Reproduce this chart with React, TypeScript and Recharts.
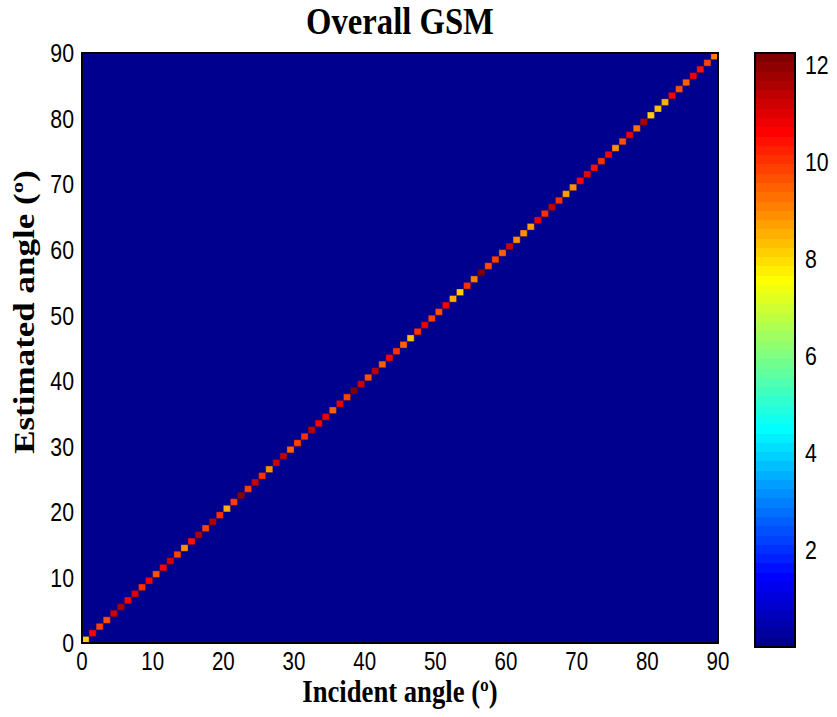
import React from "react";
import { ComposedChart, XAxis, YAxis, ReferenceArea } from "recharts";

// incident angle of each diagonal cell (deg)
const angles = [
  0, 1, 2, 3, 4, 5, 6, 7, 8, 9, 10, 11, 12, 13, 14, 15, 16, 17, 18, 19,
  20, 21, 22, 23, 24, 25, 26, 27, 28, 29, 30, 31, 32, 33, 34, 35, 36, 37, 38, 39,
  40, 41, 42, 43, 44, 45, 46, 47, 48, 49, 50, 51, 52, 53, 54, 55, 56, 57, 58, 59,
  60, 61, 62, 63, 64, 65, 66, 67, 68, 69, 70, 71, 72, 73, 74, 75, 76, 77, 78, 79,
  80, 81, 82, 83, 84, 85, 86, 87, 88, 89,
];

// GSM value on the diagonal (estimated == incident)
const peakValues = [
  8.2, 10.6, 9.8, 9.6, 11.2, 11.6, 10.7, 11.0, 10.1, 10.6,
  9.6, 10.7, 11.2, 9.9, 8.8, 10.5, 11.5, 9.9, 11.6, 10.1,
  8.6, 9.8, 11.9, 9.8, 11.1, 10.1, 8.8, 11.1, 11.4, 9.4,
  9.8, 10.1, 11.3, 10.7, 10.9, 9.5, 10.9, 9.9, 12.1, 11.1,
  9.6, 11.3, 9.4, 10.7, 10.1, 9.5, 8.4, 10.1, 10.9, 9.8,
  9.6, 10.7, 8.6, 8.2, 10.1, 9.1, 12.2, 9.6, 9.8, 9.4,
  11.1, 8.9, 8.8, 8.7, 10.9, 9.95, 11.4, 9.95, 8.7, 8.8,
  10.7, 10.9, 10.5, 9.95, 10.7, 8.8, 9.6, 10.9, 9.3, 11.5,
  8.1, 8.4, 8.6, 10.7, 9.6, 9.5, 10.9, 10.5, 9.8, 9.0,
];

const offDiagonalValue = 0;
const angleRange = [0, 90];
const angleTicks = [0, 10, 20, 30, 40, 50, 60, 70, 80, 90];
const colorRange = [0, 12.24];
const colorTicks = [2, 4, 6, 8, 10, 12];

const W = 837;
const H = 717;
const sans = "'Liberation Sans', Arial, Helvetica, sans-serif";
const serif = "'Liberation Serif', 'Times New Roman', serif";

// matlab jet, 64 entries
const clamp = (v: number) => Math.max(0, Math.min(1, v));
const jetAt = (t: number) => {
  const r = clamp(1.5 - Math.abs(4 * t - 3));
  const g = clamp(1.5 - Math.abs(4 * t - 2));
  const b = clamp(1.5 - Math.abs(4 * t - 1));
  return `rgb(${Math.round(r * 255)},${Math.round(g * 255)},${Math.round(b * 255)})`;
};
const jetIndex = (i: number) => jetAt((i + 1) / 64);
const colorFor = (v: number) => {
  const t = (v - colorRange[0]) / (colorRange[1] - colorRange[0]);
  const idx = Math.min(63, Math.max(0, Math.floor(t * 64)));
  return jetIndex(idx);
};

const jetStops: { offset: string; color: string }[] = [];
for (let i = 63; i >= 0; i--) {
  jetStops.push({ offset: `${((63 - i) / 64) * 100}%`, color: jetIndex(i) });
  jetStops.push({ offset: `${((64 - i) / 64) * 100}%`, color: jetIndex(i) });
}

const tickLineStyle = { stroke: "#000", strokeWidth: 1.5 };
const boxLineStyle = { stroke: "#000", strokeWidth: 2 };
const mainMargin = { top: 52, right: 118, bottom: 0, left: 32 };
const barMargin = { top: 53, right: 0, bottom: 69, left: 755 };
const layer = { position: "absolute" as const, left: 0, top: 0 };

const XTick = (props: any) => {
  const { x, y, payload } = props;
  return (
    <text
      transform={`translate(${x},${y}) scale(0.82,1)`}
      textAnchor="middle"
      dy="0.71em"
      fontSize={25}
      fontFamily={sans}
      fill="#000"
    >
      {payload.value}
    </text>
  );
};

const LeftTick = (props: any) => {
  const { x, y, payload } = props;
  return (
    <text
      transform={`translate(${x},${y}) scale(0.82,1)`}
      textAnchor="end"
      dy="0.36em"
      fontSize={26}
      fontFamily={sans}
      fill="#000"
    >
      {payload.value}
    </text>
  );
};

const RightTick = (props: any) => {
  const { x, y, payload } = props;
  return (
    <text
      transform={`translate(${x},${y}) scale(0.82,1)`}
      textAnchor="start"
      dy="0.36em"
      fontSize={26}
      fontFamily={sans}
      fill="#000"
    >
      {payload.value}
    </text>
  );
};

const XTitle = (props: any) => {
  const { x, y, width } = props.viewBox;
  return (
    <text
      transform={`translate(${x + width / 2},${y + 59}) scale(0.86,1)`}
      textAnchor="middle"
      fontSize={31}
      fontWeight="bold"
      fontFamily={serif}
      fill="#000"
    >
      Incident angle (º)
    </text>
  );
};

const YTitle = (props: any) => {
  const { x, y, height } = props.viewBox;
  return (
    <text
      transform={`translate(${x + 2},${y + height / 2 - 36}) rotate(-90) scale(1,0.82)`}
      textAnchor="middle"
      fontSize={35}
      fontWeight="bold"
      fontFamily={serif}
      fill="#000"
    >
      Estimated angle (º)
    </text>
  );
};

const GsmMap = () => (
  <ComposedChart width={W} height={H} margin={mainMargin} style={layer}>
    <text
      transform="translate(400,34) scale(0.86,1)"
      textAnchor="middle"
      fontSize={38}
      fontWeight="bold"
      fontFamily={serif}
      fill="#000"
    >
      Overall GSM
    </text>
    <ReferenceArea
      x1={angleRange[0]}
      x2={angleRange[1]}
      y1={angleRange[0]}
      y2={angleRange[1]}
      fill={colorFor(offDiagonalValue)}
      fillOpacity={1}
      stroke="none"
    />
    {angles.map((a, i) => (
      <ReferenceArea
        key={a}
        x1={a}
        x2={a + 1}
        y1={a}
        y2={a + 1}
        fill={colorFor(peakValues[i])}
        fillOpacity={1}
        stroke="#2a0850"
        strokeOpacity={0.35}
        strokeWidth={1}
      />
    ))}
    <ReferenceArea
      x1={angleRange[0]}
      x2={angleRange[1]}
      y1={angleRange[0]}
      y2={angleRange[1]}
      fill="none"
      stroke="#000"
      strokeWidth={2}
      ifOverflow="visible"
    />
    <XAxis
      type="number"
      dataKey="x"
      domain={angleRange}
      ticks={angleTicks}
      allowDataOverflow
      height={74}
      tickSize={0}
      tickMargin={9}
      tickLine={false}
      axisLine={boxLineStyle}
      tick={<XTick />}
      label={(p: any) => <XTitle {...p} />}
    />
    <XAxis
      xAxisId="top"
      type="number"
      dataKey="x"
      domain={angleRange}
      ticks={angleTicks}
      allowDataOverflow
      orientation="top"
      height={1}
      tick={false}
      tickLine={false}
      axisLine={false}
    />
    <YAxis
      type="number"
      dataKey="y"
      domain={angleRange}
      ticks={angleTicks}
      allowDataOverflow
      width={50}
      tickSize={0}
      tickMargin={8}
      tickLine={false}
      axisLine={boxLineStyle}
      tick={<LeftTick />}
      label={(p: any) => <YTitle {...p} />}
    />
    <YAxis
      yAxisId="right"
      type="number"
      dataKey="y"
      domain={angleRange}
      ticks={angleTicks}
      allowDataOverflow
      orientation="right"
      width={1}
      tick={false}
      tickLine={false}
      axisLine={false}
    />
  </ComposedChart>
);

// same layout as GsmMap, only the inward tick marks, drawn on top of the cells
const GsmTicks = () => (
  <ComposedChart width={W} height={H} margin={mainMargin} style={layer}>
    <ReferenceArea
      x1={angleRange[0]}
      x2={angleRange[1]}
      y1={angleRange[0]}
      y2={angleRange[1]}
      fill="none"
      stroke="none"
    />
    <ReferenceArea
      xAxisId="top"
      yAxisId="right"
      x1={angleRange[0]}
      x2={angleRange[1]}
      y1={angleRange[0]}
      y2={angleRange[1]}
      fill="none"
      stroke="none"
    />
    <XAxis
      type="number"
      dataKey="x"
      domain={angleRange}
      ticks={angleTicks}
      allowDataOverflow
      height={74}
      tickSize={-6}
      tick={false}
      tickLine={tickLineStyle}
      axisLine={false}
    />
    <XAxis
      xAxisId="top"
      type="number"
      dataKey="x"
      domain={angleRange}
      ticks={angleTicks}
      allowDataOverflow
      orientation="top"
      height={1}
      tickSize={-6}
      tick={false}
      tickLine={tickLineStyle}
      axisLine={false}
    />
    <YAxis
      type="number"
      dataKey="y"
      domain={angleRange}
      ticks={angleTicks}
      allowDataOverflow
      width={50}
      tickSize={-6}
      tick={false}
      tickLine={tickLineStyle}
      axisLine={false}
    />
    <YAxis
      yAxisId="right"
      type="number"
      dataKey="y"
      domain={angleRange}
      ticks={angleTicks}
      allowDataOverflow
      orientation="right"
      width={1}
      tickSize={-6}
      tick={false}
      tickLine={tickLineStyle}
      axisLine={false}
    />
  </ComposedChart>
);

const ColorBar = () => (
  <ComposedChart width={W} height={H} margin={barMargin} style={layer}>
    <defs>
      <linearGradient id="jetBar" x1="0" y1="0" x2="0" y2="1">
        {jetStops.map((s, i) => (
          <stop key={i} offset={s.offset} stopColor={s.color} />
        ))}
      </linearGradient>
    </defs>
    <ReferenceArea
      x1={0}
      x2={1}
      y1={colorRange[0]}
      y2={colorRange[1]}
      fill="url(#jetBar)"
      fillOpacity={1}
      stroke="#000"
      strokeWidth={2}
    />
    <XAxis
      type="number"
      dataKey="x"
      domain={[0, 1]}
      ticks={[0, 1]}
      allowDataOverflow
      height={1}
      tick={false}
      tickLine={false}
      axisLine={false}
    />
    <YAxis
      type="number"
      dataKey="v"
      orientation="right"
      domain={colorRange}
      ticks={colorTicks}
      allowDataOverflow
      width={42}
      tickSize={0}
      tickMargin={10}
      tickLine={false}
      axisLine={false}
      tick={<RightTick />}
    />
  </ComposedChart>
);

const ColorTicks = () => (
  <ComposedChart width={W} height={H} margin={barMargin} style={layer}>
    <ReferenceArea
      x1={0}
      x2={1}
      y1={colorRange[0]}
      y2={colorRange[1]}
      fill="none"
      stroke="none"
    />
    <ReferenceArea
      yAxisId="left"
      x1={0}
      x2={1}
      y1={colorRange[0]}
      y2={colorRange[1]}
      fill="none"
      stroke="none"
    />
    <XAxis
      type="number"
      dataKey="x"
      domain={[0, 1]}
      ticks={[0, 1]}
      allowDataOverflow
      height={1}
      tick={false}
      tickLine={false}
      axisLine={false}
    />
    <YAxis
      type="number"
      dataKey="v"
      orientation="right"
      domain={colorRange}
      ticks={colorTicks}
      allowDataOverflow
      width={42}
      tickSize={-5}
      tick={false}
      tickLine={tickLineStyle}
      axisLine={false}
    />
    <YAxis
      yAxisId="left"
      type="number"
      dataKey="v"
      orientation="left"
      domain={colorRange}
      ticks={colorTicks}
      allowDataOverflow
      width={1}
      tickSize={-5}
      tick={false}
      tickLine={tickLineStyle}
      axisLine={false}
    />
  </ComposedChart>
);

export default function App() {
  return (
    <div style={{ position: "absolute", left: 0, top: 0, width: W, height: H, background: "#fff" }}>
      <GsmMap />
      <ColorBar />
      <GsmTicks />
      <ColorTicks />
    </div>
  );
}
